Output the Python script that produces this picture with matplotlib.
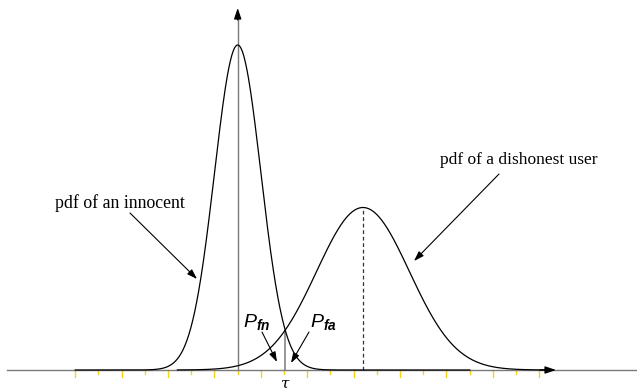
import numpy as np
import matplotlib
matplotlib.use("Agg")
import matplotlib.pyplot as plt

plt.rcParams["mathtext.fontset"] = "custom"
plt.rcParams["mathtext.it"] = "Liberation Sans:italic"
plt.rcParams["mathtext.rm"] = "Liberation Sans"
plt.rcParams["mathtext.bf"] = "Liberation Sans:italic:bold"

# Score distributions
innocent_mean, innocent_std = 0.0, 1.0
dishonest_mean, dishonest_std = 5.4, 2.0
innocent_range = [-7.0, 10.0]
dishonest_range = [-2.6, 13.4]
tau = 2.05
tick_positions = list(range(-7, 14))

labels = ["pdf of an innocent", "pdf of a dishonest user"]


def pdf(x, m, s):
    return np.exp(-0.5 * ((x - m) / s) ** 2) / (s * np.sqrt(2 * np.pi))


# pixel-ish helpers for layout (x: 23.2 px per unit, y: 814.7 px per unit)
X0, SX, Y0, SY = 237.7, 23.2, 370.0, 814.7


def P(px, py):
    return ((px - X0) / SX, (Y0 - py) / SY)


fig = plt.figure(figsize=(6.37, 3.92), dpi=100)
ax = fig.add_axes([0, 0, 1, 1])
ax.set_xlim(P(0, 0)[0], P(637, 0)[0])
ax.set_ylim(P(0, 392)[1], P(0, 0)[1])
ax.axis("off")

gray = "#7a7a7a"

# horizontal axis
ax.plot([P(7, 0)[0], P(640, 0)[0]], [0, 0], color=gray, lw=1.0, zorder=1)
ax.annotate("", xy=P(556, 370), xytext=P(540, 370),
            arrowprops=dict(arrowstyle="-|>,head_length=0.65,head_width=0.22",
                            mutation_scale=10, color="black", lw=0.9,
                            shrinkA=0, shrinkB=0), zorder=4)

# vertical axis
ax.plot([0, 0], [0, P(0, 14)[1]], color=gray, lw=1.0, zorder=1)
ax.annotate("", xy=P(X0, 8), xytext=P(X0, 20),
            arrowprops=dict(arrowstyle="-|>,head_length=0.65,head_width=0.22",
                            mutation_scale=10, color="black", lw=0.9,
                            shrinkA=0, shrinkB=0), zorder=4)

# yellow ticks under the axis
for i, t in enumerate(tick_positions):
    length = 6.5 if i % 2 == 0 else 3.5
    ax.plot([t, t], [0, -length / SY], color="#f7d21a", lw=1.0, zorder=0)

# curves
xi = np.linspace(*innocent_range, 800)
xd = np.linspace(*dishonest_range, 800)
ax.plot(xi, pdf(xi, innocent_mean, innocent_std), color="black", lw=0.9, zorder=3)
ax.plot(xd, pdf(xd, dishonest_mean, dishonest_std), color="black", lw=0.9, zorder=3)

# dishonest mean (dashed)
ax.plot([dishonest_mean, dishonest_mean],
        [0, pdf(dishonest_mean, dishonest_mean, dishonest_std)],
        color="#333333", lw=0.9, linestyle=(0, (3, 2.2)), zorder=2)

# threshold
h_tau = min(pdf(tau, innocent_mean, innocent_std), pdf(tau, dishonest_mean, dishonest_std))
ax.plot([tau, tau], [0, h_tau], color=gray, lw=1.1, zorder=2)
ax.text(tau, P(0, 391)[1], "τ", family="DejaVu Serif", style="italic",
        ha="center", va="bottom", fontsize=11)

arrow = dict(arrowstyle="-|>,head_length=0.6,head_width=0.2", mutation_scale=10,
             color="black", lw=0.8, shrinkA=0, shrinkB=0)

# distribution labels
ax.text(*P(55, 203), labels[0], family="Liberation Serif", fontsize=12.8,
        ha="left", va="center")
ax.annotate("", xy=P(197, 279), xytext=P(130, 213), arrowprops=arrow)

ax.text(*P(440, 160), labels[1], family="Liberation Serif", fontsize=12.5,
        ha="left", va="center")
ax.annotate("", xy=P(414, 261), xytext=P(499, 174), arrowprops=arrow)

# error probability labels
ax.text(*P(243, 327), r"$P_{\mathbf{fn}}$", fontsize=14, ha="left", va="baseline")
ax.annotate("", xy=P(277, 362), xytext=P(262, 332), arrowprops=arrow)
ax.text(*P(310, 327), r"$P_{\mathbf{fa}}$", fontsize=14, ha="left", va="baseline")
ax.annotate("", xy=P(291, 363), xytext=P(309, 332), arrowprops=arrow)

fig.savefig("out.png", dpi=100)
